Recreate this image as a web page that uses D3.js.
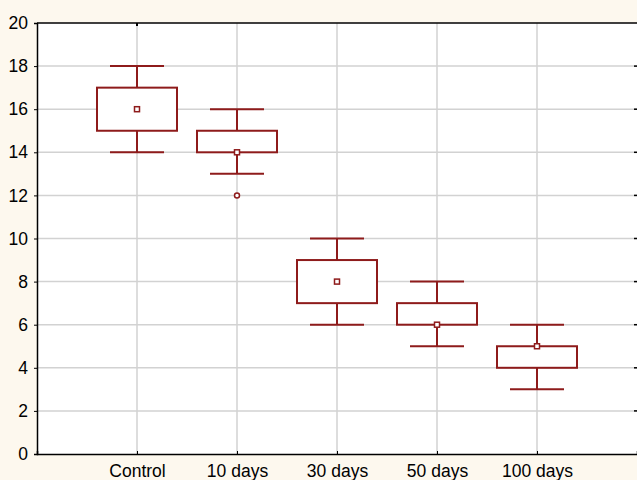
<!DOCTYPE html>
<html>
<head>
<meta charset="utf-8">
<script src="https://cdn.jsdelivr.net/npm/d3@7"></script>
<style>
  body { margin: 0; background: #fdf8ee; }
  svg { display: block; }
</style>
</head>
<body>
<div id="chart"></div>
<script>
// Chart data
const groups = ["Control", "10 days", "30 days", "50 days", "100 days"];
const means = [16, 14, 8, 6, 5];
const boxLow = [15, 14, 7, 6, 4];
const boxHigh = [17, 15, 9, 7, 5];
const whiskerLow = [14, 13, 6, 5, 3];
const whiskerHigh = [18, 16, 10, 8, 6];
const outliers = [[], [12], [], [], []];
const yTicks = [0, 2, 4, 6, 8, 10, 12, 14, 16, 18, 20];

const W = 637, H = 480;
const margin = { top: 23, right: 0, bottom: 26, left: 37 };
const fontSize = 17.5;

const svg = d3.select("#chart").append("svg")
  .attr("width", W)
  .attr("height", H);

svg.append("rect").attr("width", W).attr("height", H).attr("fill", "#fdf8ee");

const x = d3.scaleLinear().domain([0, groups.length + 1]).range([margin.left, W - margin.right]);
const y = d3.scaleLinear().domain([0, 20]).range([H - margin.bottom, margin.top]);

// plot area
svg.append("rect")
  .attr("x", margin.left).attr("y", margin.top)
  .attr("width", W - margin.right - margin.left)
  .attr("height", y(0) - y(20))
  .attr("fill", "#fff");

// gridlines
svg.append("g").selectAll("line").data(yTicks.slice(1, -1)).enter().append("line")
  .attr("x1", margin.left).attr("x2", W)
  .attr("y1", d => y(d)).attr("y2", d => y(d))
  .attr("stroke", "#d2d2d2").attr("stroke-width", 1.5);
svg.append("g").selectAll("line").data(groups).enter().append("line")
  .attr("x1", (d, i) => x(i + 1)).attr("x2", (d, i) => x(i + 1))
  .attr("y1", y(0)).attr("y2", y(20))
  .attr("stroke", "#d2d2d2").attr("stroke-width", 1.5);

// axes
const yAxis = svg.append("g")
  .attr("transform", `translate(${margin.left},0)`)
  .call(d3.axisLeft(y).tickValues(yTicks).tickSize(3).tickPadding(6));
yAxis.select(".domain").attr("stroke", "#000").attr("stroke-width", 1.5);
yAxis.selectAll("text").attr("font-family", "Liberation Sans, Arial, sans-serif")
  .attr("font-size", fontSize).attr("fill", "#000");

const xAxis = svg.append("g")
  .attr("transform", `translate(0,${y(0)})`)
  .call(d3.axisBottom(x).tickValues(groups.map((d, i) => i + 1))
    .tickFormat((d) => groups[d - 1]).tickSize(-3).tickPadding(10.5));
xAxis.select(".domain").attr("stroke", "#000").attr("stroke-width", 1.5);
xAxis.selectAll("text").attr("font-family", "Liberation Sans, Arial, sans-serif")
  .attr("font-size", fontSize).attr("fill", "#000");

// top axis line
svg.append("line")
  .attr("x1", margin.left).attr("x2", W)
  .attr("y1", y(20)).attr("y2", y(20))
  .attr("stroke", "#000").attr("stroke-width", 1.5);
svg.append("line")
  .attr("x1", x(1)).attr("x2", x(1))
  .attr("y1", y(20)).attr("y2", y(20) + 3)
  .attr("stroke", "#000").attr("stroke-width", 2);
// right side ticks
svg.append("g").selectAll("line").data(yTicks.slice(1, -1)).enter().append("line")
  .attr("x1", W - 3).attr("x2", W)
  .attr("y1", d => y(d)).attr("y2", d => y(d))
  .attr("stroke", "#000").attr("stroke-width", 1.5);

// boxes
const red = "#8e1b1b";
const boxW = 40, capW = 27;
const g = svg.append("g").selectAll("g").data(groups).enter().append("g");

g.append("line")
  .attr("x1", (d, i) => x(i + 1)).attr("x2", (d, i) => x(i + 1))
  .attr("y1", (d, i) => y(whiskerLow[i])).attr("y2", (d, i) => y(whiskerHigh[i]))
  .attr("stroke", red).attr("stroke-width", 2);
g.append("line")
  .attr("x1", (d, i) => x(i + 1) - capW).attr("x2", (d, i) => x(i + 1) + capW)
  .attr("y1", (d, i) => y(whiskerLow[i])).attr("y2", (d, i) => y(whiskerLow[i]))
  .attr("stroke", red).attr("stroke-width", 2);
g.append("line")
  .attr("x1", (d, i) => x(i + 1) - capW).attr("x2", (d, i) => x(i + 1) + capW)
  .attr("y1", (d, i) => y(whiskerHigh[i])).attr("y2", (d, i) => y(whiskerHigh[i]))
  .attr("stroke", red).attr("stroke-width", 2);
g.append("rect")
  .attr("x", (d, i) => x(i + 1) - boxW)
  .attr("y", (d, i) => y(boxHigh[i]))
  .attr("width", boxW * 2)
  .attr("height", (d, i) => y(boxLow[i]) - y(boxHigh[i]))
  .attr("fill", "#fff").attr("stroke", red).attr("stroke-width", 2);
g.append("rect")
  .attr("x", (d, i) => x(i + 1) - 2.5)
  .attr("y", (d, i) => y(means[i]) - 2.5)
  .attr("width", 5).attr("height", 5)
  .attr("fill", "#fff").attr("stroke", red).attr("stroke-width", 1.5);
g.each(function (d, i) {
  d3.select(this).selectAll("circle").data(outliers[i]).enter().append("circle")
    .attr("cx", x(i + 1)).attr("cy", v => y(v)).attr("r", 2.5)
    .attr("fill", "#fff").attr("stroke", red).attr("stroke-width", 1.5);
});
</script>
</body>
</html>
